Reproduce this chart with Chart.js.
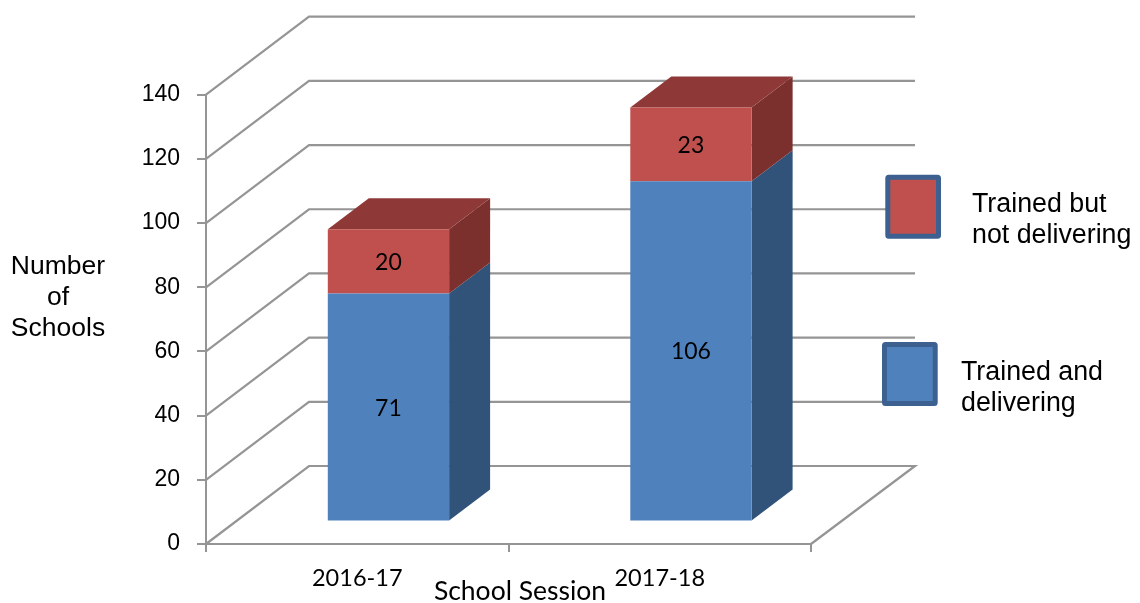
<!DOCTYPE html>
<html>
<head>
<meta charset="utf-8">
<style>html,body{margin:0;padding:0;background:#fff}canvas{display:block}</style>
<script src="https://cdn.jsdelivr.net/npm/chart.js@4"></script>
</head>
<body>
<canvas id="c" width="1140" height="603"></canvas>
<script>
const categories = ['2016-17', '2017-18'];
const deliveringName = 'Trained and delivering';
const notDeliveringName = 'Trained but not delivering';
const delivering = [71, 106];
const notDelivering = [20, 23];
const yTicks = [0, 20, 40, 60, 80, 100, 120, 140];
const xTitle = 'School Session';
const yTitleLines = ['Number', 'of', 'Schools'];

const BLUE = '#4f81bd', RED = '#c0504d', GRID = '#959595';
const SIDES = { [deliveringName]: '#315379', [notDeliveringName]: '#7b302e' };
const TOPS = { [deliveringName]: '#3a6291', [notDeliveringName]: '#8e3937' };

const WALL = { dx: 103, dy: 78, right: 915 };   // perspective of the walls
const BAR = { dx: 31.2, dy: 22.6, depthX: 41, depthY: 31 }; // bar placement on the floor
const ARIAL = '"Liberation Sans", Arial, sans-serif';
const CALIBRI = 'Lato, Carlito, sans-serif';

const legendItems = [
  { name: notDeliveringName, fill: RED, box: [887.8, 177.2, 50.7, 59], x: 972, lines: ['Trained but', 'not delivering'], base: [212, 242.5] },
  { name: deliveringName, fill: BLUE, box: [884.5, 344.5, 50.7, 59], x: 961, lines: ['Trained and', 'delivering'], base: [380, 410.5] }
];

const scene3d = {
  id: 'scene3d',
  beforeDatasetsDraw(chart) {
    const { ctx, chartArea: a, scales: { y } } = chart;
    ctx.save();
    ctx.strokeStyle = GRID; ctx.lineWidth = 2.2; ctx.lineJoin = 'miter';
    yTicks.forEach(v => {
      const p = y.getPixelForValue(v);
      ctx.beginPath();
      ctx.moveTo(a.left, p);
      ctx.lineTo(a.left + WALL.dx, p - WALL.dy);
      ctx.lineTo(WALL.right, p - WALL.dy);
      if (v === 0) ctx.lineTo(a.right, p);
      ctx.stroke();
    });
    ctx.translate(BAR.dx, -BAR.dy);
    chart.data.datasets.forEach((ds, i) => {
      chart.getDatasetMeta(i).data.forEach(el => {
        const l = el.x - el.width / 2, r = el.x + el.width / 2, t = el.y, b = el.base;
        ctx.fillStyle = SIDES[ds.label];
        ctx.beginPath();
        ctx.moveTo(r, t); ctx.lineTo(r + BAR.depthX, t - BAR.depthY);
        ctx.lineTo(r + BAR.depthX, b - BAR.depthY); ctx.lineTo(r, b);
        ctx.closePath(); ctx.fill();
        if (i === chart.data.datasets.length - 1) {
          ctx.fillStyle = TOPS[ds.label];
          ctx.beginPath();
          ctx.moveTo(l, t); ctx.lineTo(l + BAR.depthX, t - BAR.depthY);
          ctx.lineTo(r + BAR.depthX, t - BAR.depthY); ctx.lineTo(r, t);
          ctx.closePath(); ctx.fill();
        }
      });
    });
  },
  afterDatasetsDraw(chart) {
    const { ctx } = chart;
    ctx.fillStyle = '#000';
    ctx.font = '23px ' + CALIBRI;
    ctx.textAlign = 'center'; ctx.textBaseline = 'middle';
    chart.data.datasets.forEach((ds, i) => {
      chart.getDatasetMeta(i).data.forEach((el, k) => {
        ctx.fillText(String(ds.data[k]), el.x, (el.y + el.base) / 2 + 1.2);
      });
    });
    ctx.restore();
  },
  afterDraw(chart) {
    const { ctx } = chart;
    ctx.save();
    ctx.textBaseline = 'alphabetic';
    legendItems.forEach(it => {
      ctx.fillStyle = it.fill;
      ctx.strokeStyle = '#3c6090';
      ctx.lineWidth = 5;
      ctx.beginPath();
      ctx.roundRect(it.box[0], it.box[1], it.box[2], it.box[3], 1);
      ctx.fill(); ctx.stroke();
      ctx.fillStyle = '#000';
      ctx.font = '26.8px ' + ARIAL;
      ctx.textAlign = 'left';
      it.lines.forEach((t, i) => ctx.fillText(t, it.x, it.base[i]));
    });
    ctx.textAlign = 'center';
    ctx.font = '26.5px ' + ARIAL;
    yTitleLines.forEach((t, i) => ctx.fillText(t, 58, 274 + i * 31));
    ctx.font = '26.5px ' + CALIBRI;
    ctx.fillText(xTitle, 520, 600);
    ctx.restore();
  }
};

new Chart(document.getElementById('c'), {
  type: 'bar',
  data: {
    labels: categories,
    datasets: [
      { label: deliveringName, data: delivering, backgroundColor: BLUE, stack: 's', clip: false },
      { label: notDeliveringName, data: notDelivering, backgroundColor: RED, stack: 's', clip: false }
    ]
  },
  options: {
    responsive: false,
    animation: false,
    devicePixelRatio: 1,
    layout: { autoPadding: false, padding: { left: 0, top: 94.7, right: 329, bottom: 0 } },
    plugins: { legend: { display: false }, title: { display: false }, tooltip: { enabled: false } },
    datasets: { bar: { categoryPercentage: 1, barPercentage: 0.401 } },
    scales: {
      x: {
        stacked: true,
        afterFit: s => { s.height = 59; },
        grid: { drawOnChartArea: false, color: GRID, lineWidth: 2, tickLength: 8 },
        border: { color: GRID, width: 2 },
        ticks: { autoSkip: false, maxRotation: 0, padding: 12, color: '#000', font: { family: CALIBRI, size: 23.5 } }
      },
      y: {
        stacked: true,
        min: 0, max: 140,
        afterFit: s => { s.width = 206; },
        afterBuildTicks: s => { s.ticks = yTicks.map(v => ({ value: v })); },
        grid: { drawOnChartArea: false, color: GRID, lineWidth: 2, tickLength: 9 },
        border: { color: GRID, width: 2 },
        ticks: { padding: 17, color: '#000', font: { family: ARIAL, size: 23 } }
      }
    }
  },
  plugins: [scene3d]
});
</script>
</body>
</html>
